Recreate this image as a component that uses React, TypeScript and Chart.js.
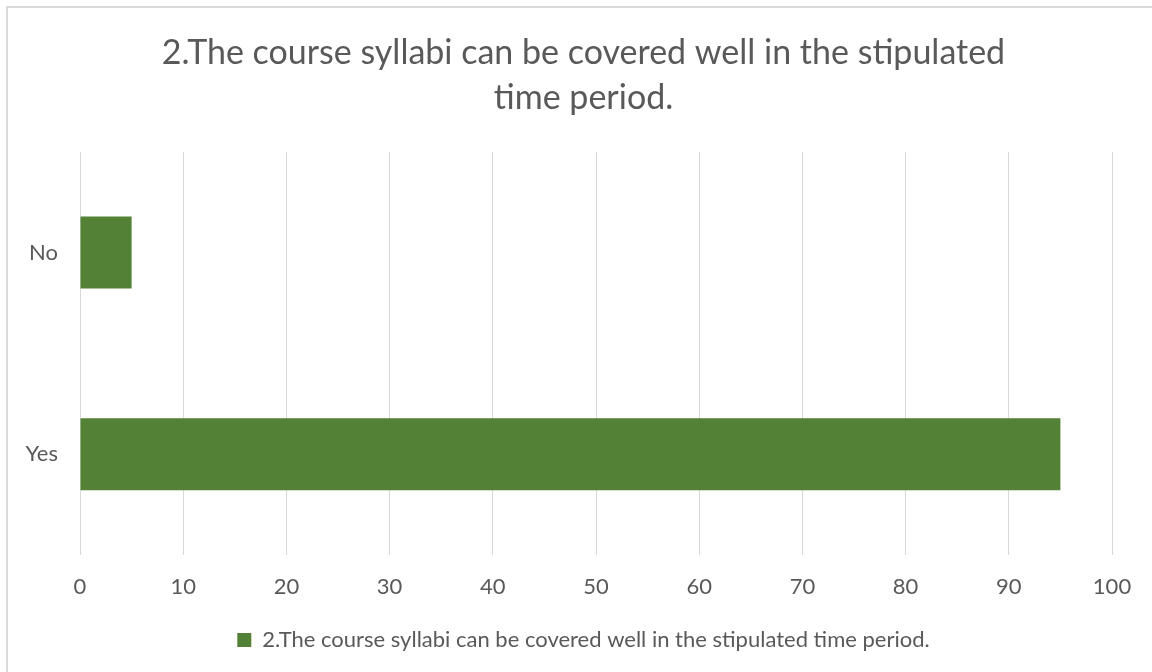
import React, { useEffect, useRef } from "react";
import { Chart, registerables } from "chart.js";

Chart.register(...registerables);

const categories: string[] = ["No", "Yes"];
const seriesValues: number[] = [5, 95];
const seriesName = "2.The course syllabi can be covered well in the stipulated time period.";
const titleLines: string[] = ["2.The course syllabi can be covered well in the stipulated", "time period."];
const xMin = 0;
const xMax = 100;
const xStep = 10;

const TEXT = "#595959";
const GREEN = "#538135";
const GRID = "#d9d9d9";
const FONT = "Lato, 'Open Sans', sans-serif";

const framePlugin = {
  id: "frame",
  beforeDraw(chart: any) {
    const ctx = chart.ctx;
    ctx.save();
    ctx.fillStyle = "#ffffff";
    ctx.fillRect(0, 0, chart.width, chart.height);
    ctx.strokeStyle = GRID;
    ctx.lineWidth = 2;
    ctx.beginPath();
    ctx.moveTo(7, chart.height + 2);
    ctx.lineTo(7, 7);
    ctx.lineTo(chart.width + 2, 7);
    ctx.stroke();
    ctx.restore();
  },
};

export default function App() {
  const ref = useRef<HTMLCanvasElement | null>(null);
  useEffect(() => {
    if (!ref.current) return;
    const chart = new Chart(ref.current, {
      type: "bar",
      data: {
        labels: categories,
        datasets: [
          {
            label: seriesName,
            data: seriesValues,
            backgroundColor: GREEN,
            borderWidth: 0,
            categoryPercentage: 1,
            barPercentage: 0.357,
          },
        ],
      },
      options: {
        indexAxis: "y",
        animation: false,
        responsive: false,
        maintainAspectRatio: false,
        layout: { padding: { left: 55, right: 40, top: 0, bottom: 11 } },
        plugins: {
          tooltip: { enabled: false },
          title: {
            display: true,
            text: titleLines,
            color: TEXT,
            font: { family: FONT, size: 34, weight: "normal", lineHeight: 1.32 },
            padding: { top: 31, bottom: 31 },
          },
          legend: {
            position: "bottom",
            labels: {
              color: TEXT,
              font: { family: FONT, size: 22 },
              boxWidth: 14,
              boxHeight: 14,
              padding: 10,
            },
          },
        },
        scales: {
          x: {
            min: xMin,
            max: xMax,
            ticks: { stepSize: xStep, color: TEXT, font: { family: FONT, size: 22 }, padding: 19 },
            grid: { color: GRID, lineWidth: 1, drawTicks: false },
            border: { display: false },
            afterFit: (s: any) => {
              s.height = 64;
            },
          },
          y: {
            ticks: { color: TEXT, font: { family: FONT, size: 22 }, padding: 22 },
            grid: { display: false, drawTicks: false },
            border: { display: false },
            afterFit: (s: any) => {
              s.width = 25;
              s._computeLabelArea = () => undefined;
            },
          },
        },
      },
      plugins: [framePlugin],
    });
    return () => chart.destroy();
  }, []);
  return (
    <div style={{ position: "absolute", left: 0, top: 0, width: 1152, height: 672 }}>
      <canvas ref={ref} width={1152} height={672} style={{ width: 1152, height: 672, display: "block" }} />
    </div>
  );
}
